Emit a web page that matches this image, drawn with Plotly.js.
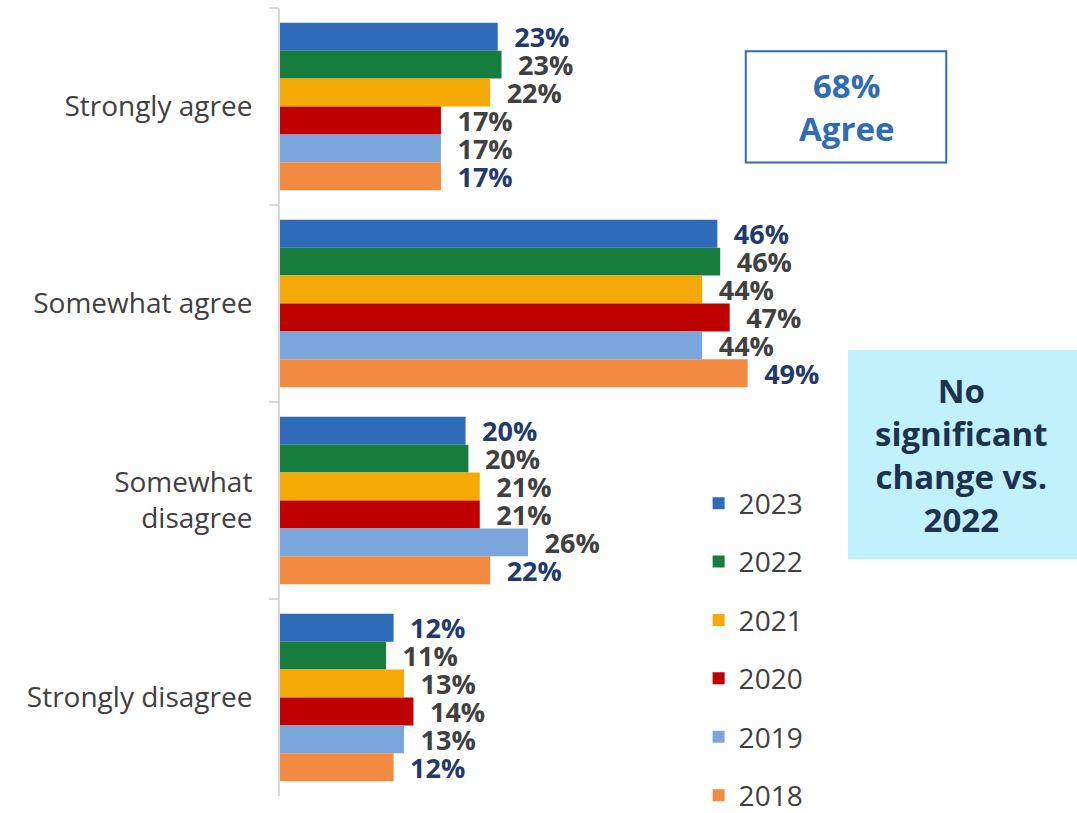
<!DOCTYPE html>
<html>
<head>
<meta charset="utf-8">
<script src="https://cdn.plot.ly/plotly-3.0.1.min.js"></script>
<style>html,body{margin:0;padding:0;background:#fff;}#chart{width:1077px;height:813px;}</style>
</head>
<body>
<div id="chart"></div>
<script>
const categories = ["Strongly agree", "Somewhat agree", "Somewhat<br>disagree", "Strongly disagree"];
const years = ["2023", "2022", "2021", "2020", "2019", "2018"];
const values = {
  "2023": [23.0, 46.2, 19.6, 12.0],
  "2022": [23.4, 46.5, 19.9, 11.2],
  "2021": [22.2, 44.6, 21.1, 13.1],
  "2020": [17.0, 47.5, 21.1, 14.1],
  "2019": [17.0, 44.6, 26.2, 13.1],
  "2018": [17.0, 49.4, 22.2, 12.0]
};
const labels = {
  "2023": ["23%", "46%", "20%", "12%"],
  "2022": ["23%", "46%", "20%", "11%"],
  "2021": ["22%", "44%", "21%", "13%"],
  "2020": ["17%", "47%", "21%", "14%"],
  "2019": ["17%", "44%", "26%", "13%"],
  "2018": ["17%", "49%", "22%", "12%"]
};
const colors = {
  "2023": "#2E6BB8", "2022": "#177D3C", "2021": "#F4A904",
  "2020": "#BF0000", "2019": "#7BA6DC", "2018": "#F38A42"
};
const labelColors = {
  "2023": "#24396B", "2022": "#404040", "2021": "#404040",
  "2020": "#404040", "2019": "#404040", "2018": "#24396B"
};
const boxAgreeText = "68%<br>Agree";
const boxChangeText = "No<br>significant<br>change vs.<br>2022";

const FONT = "Open Sans, Liberation Sans, sans-serif";

const traces = years.map(y => ({
  type: "bar",
  orientation: "h",
  name: y,
  legendgroup: y,
  y: categories,
  x: values[y],
  text: labels[y],
  texttemplate: "\u2002%{text}",
  textposition: "outside",
  constraintext: "none",
  cliponaxis: false,
  textfont: {family: FONT, size: 27, color: labelColors[y], weight: 700},
  marker: {color: colors[y]},
  hoverinfo: "none"
}));

const layout = {
  width: 1077, height: 813,
  margin: {l: 280, r: 229, t: 8, b: 17, autoexpand: false},
  paper_bgcolor: "#ffffff",
  plot_bgcolor: "rgba(0,0,0,0)",
  barmode: "group",
  bargap: 0.15,
  bargroupgap: 0,
  showlegend: true,
  legend: {
    x: 0.737, xanchor: "left", y: 0.403, yanchor: "top",
    traceorder: "grouped", tracegroupgap: 19,
    font: {family: FONT, size: 28, color: "#404040"},
    bgcolor: "rgba(0,0,0,0)", itemwidth: 30
  },
  xaxis: {range: [0, 60], visible: false, fixedrange: true},
  yaxis: {
    autorange: "reversed",
    showline: true, linecolor: "#D9D9D9", linewidth: 2,
    ticks: "outside", ticklen: 9, tickcolor: "#D9D9D9", tickwidth: 2,
    tickson: "boundaries",
    showgrid: false, zeroline: false,
    ticklabelstandoff: 20,
    tickfont: {family: FONT, size: 28, color: "#404040"}
  },
  shapes: [
    {type: "rect", xref: "paper", yref: "paper", x0: 0.820, x1: 1.173, y0: 0.804, y1: 0.945,
     line: {color: "#2E6BB8", width: 2}, fillcolor: "#ffffff", layer: "above"},
    {type: "rect", xref: "paper", yref: "paper", x0: 1.0, x1: 1.41, y0: 0.300, y1: 0.566,
     line: {width: 0}, fillcolor: "#C1F1FC", layer: "above"}
  ],
  annotations: [
    {xref: "paper", yref: "paper", x: 0.9965, y: 0.875, xanchor: "center", yanchor: "middle",
     text: boxAgreeText, showarrow: false,
     font: {family: FONT, size: 33, color: "#2E6BB8", weight: 700}},
    {xref: "paper", yref: "paper", x: 1.20, y: 0.433, xanchor: "center", yanchor: "middle",
     text: boxChangeText, showarrow: false,
     font: {family: FONT, size: 33, color: "#1C3350", weight: 700}}
  ]
};

Plotly.newPlot("chart", traces, layout, {displayModeBar: false, staticPlot: true});
</script>
</body>
</html>
